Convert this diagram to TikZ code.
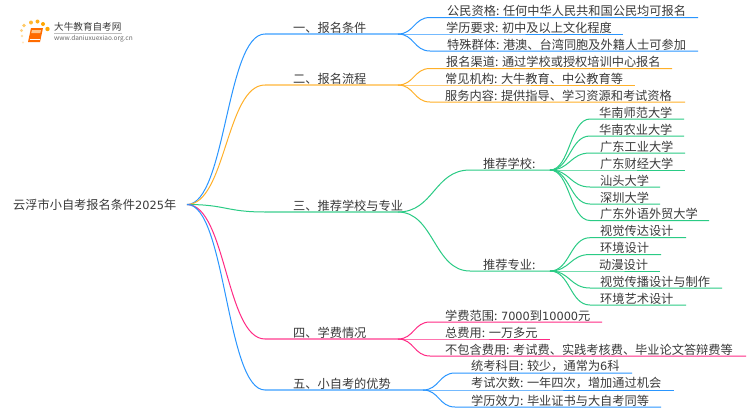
\documentclass[tikz,border=0pt]{standalone}
\usepackage{fontspec}
\setmainfont{Noto Sans CJK SC}
\newfontfamily\digitfont[Scale=0.93]{DejaVu Sans}
\definecolor{cblue}{HTML}{2A96FF}
\definecolor{corange}{HTML}{FFB029}
\definecolor{cgreen}{HTML}{2ACB85}
\definecolor{cpink}{HTML}{FF2A85}
\definecolor{ink}{HTML}{3A3A3A}
\tikzset{
  lbl/.style={anchor=west,inner sep=0pt,text=ink,font=\fontsize{12.2}{13}\selectfont},
  thin link/.style={line width=1pt},
  thick link/.style={line width=1.9pt,opacity=.6},
}
% \leaf{name}{hub}{colour}{curve end x}{y}{line end x}{text x}{text}
\newcommand{\leaf}[8]{%
  \coordinate (#1a) at (#4,#5);
  \coordinate (#1b) at (#6,#5);
  \node[lbl] (#1) at (#7,#5-6.6) {#8};
  \draw[thin link,#3] (#2) .. controls ($(#2)!.5!(#1a|-#2)$) and ($(#2|-#1a)!.5!(#1a)$) .. (#1a) -- (#1b);
}
\usetikzlibrary{calc}
\begin{document}
\begin{tikzpicture}[x=1pt,y=-1pt]
\useasboundingbox (0,0) rectangle (750,410);
\fill[white] (0,0) rectangle (750,410);
% logo
\foreach \px/\py/\r/\o in {22/36/1.4/.35,21.5/30.5/1.6/.5,24/25.5/1.8/.6,31/22.5/2/.8,37.5/21.5/2/.9,43/24/2/1,47.5/29/2.2/1,23/42.5/1.1/.25}
  \fill[orange!70!yellow,opacity=\o] (\px,\py) circle (\r);
\fill[orange!85!red] (31,28) -- (43,28) -- (40,42) -- (28,42) -- cycle;
\fill[orange!45] (32,30) -- (41,30) -- (40.3,33) -- (31.3,33) -- cycle;
\draw[white,line width=.5pt] (29.5,39.5) -- (39.5,39.5);
\node[inner sep=0pt,anchor=west,text=ink,font=\fontsize{9.6}{11}\selectfont] (logo) at (54,27) {大牛教育自考网};
\coordinate (logoa) at (54,33.3);
\coordinate (logob) at (122,33.3);
\draw[black!25,line width=.5pt] (logoa) -- (logob);
\node[inner sep=0pt,anchor=west,text=black!60,font=\fontsize{6.5}{7}\selectfont] (url) at (54,38.7) {www.daniuxuexiao.org.cn};
% root
\node[lbl] (root) at (13,205) {云浮市小自考报名条件{\digitfont 2025}年};
\coordinate (r) at (187,204.5);
% level one
\newcommand{\branch}[5]{%
  \coordinate (#1a) at (265,#3);
  \coordinate (#1) at (#4,#3);
  \draw[thin link,#2] (r) .. controls (226,204.5) and (226,#3) .. (#1a);
  \draw[thick link,#2] (#1a) -- (#1);
  \node[lbl] (#1t) at (293,#3-6.6) {#5};
}
\branch{b}{cblue}{34}{398}{一、报名条件}
\branch{c}{corange}{85}{398}{二、报名流程}
\branch{d}{cgreen}{212}{398}{三、推荐学校与专业}
\branch{e}{cpink}{339}{398}{四、学费情况}
\branch{f}{cblue}{390}{423}{五、小自考的优势}
% 一
\leaf{b1}{b}{cblue}{430}{17.5}{698}{447}{公民资格: 任何中华人民共和国公民均可报名}
\leaf{b2}{b}{cblue}{430}{34}{623}{446}{学历要求: 初中及以上文化程度}
\leaf{b3}{b}{cblue}{430}{51}{698}{447}{特殊群体: 港澳、台湾同胞及外籍人士可参加}
% 二
\leaf{c1}{c}{corange}{430}{68.5}{672}{446}{报名渠道: 通过学校或授权培训中心报名}
\leaf{c2}{c}{corange}{430}{85}{635}{445}{常见机构: 大牛教育、中公教育等}
\leaf{c3}{c}{corange}{430}{102}{685}{445}{服务内容: 提供指导、学习资源和考试资格}
% 三
\leaf{s}{d}{cgreen}{470}{170}{550}{483}{推荐学校:}
\leaf{m}{d}{cgreen}{470}{271}{550}{483}{推荐专业:}
\leaf{s1}{sb}{cgreen}{590}{119}{684}{599}{华南师范大学}
\leaf{s2}{sb}{cgreen}{590}{136}{684}{599}{华南农业大学}
\leaf{s3}{sb}{cgreen}{590}{153}{685}{600}{广东工业大学}
\leaf{s4}{sb}{cgreen}{590}{170}{685}{600}{广东财经大学}
\leaf{s5}{sb}{cgreen}{590}{187}{660}{600}{汕头大学}
\leaf{s6}{sb}{cgreen}{590}{204}{660}{600}{深圳大学}
\leaf{s7}{sb}{cgreen}{590}{220.5}{709}{600}{广东外语外贸大学}
\leaf{m1}{mb}{cgreen}{590}{237.7}{686}{600}{视觉传达设计}
\leaf{m2}{mb}{cgreen}{590}{254.5}{661}{600}{环境设计}
\leaf{m3}{mb}{cgreen}{590}{271}{660}{599}{动漫设计}
\leaf{m4}{mb}{cgreen}{590}{288}{722}{600}{视觉传播设计与制作}
\leaf{m5}{mb}{cgreen}{590}{305}{686}{600}{环境艺术设计}
% 四
\leaf{e1}{e}{cpink}{430}{322}{602}{445}{学费范围: {\digitfont 7000}到{\digitfont 10000}元}
\leaf{e2}{e}{cpink}{430}{339}{550}{445}{总费用: 一万多元}
\leaf{e3}{e}{cpink}{430}{356}{746}{445}{不包含费用: 考试费、实践考核费、毕业论文答辩费等}
% 五
\leaf{f1}{f}{cblue}{455}{373}{632}{471}{统考科目: 较少，通常为{\digitfont 6}科}
\leaf{f2}{f}{cblue}{455}{390}{674}{471}{考试次数: 一年四次，增加通过机会}
\leaf{f3}{f}{cblue}{455}{407}{661}{471}{学历效力: 毕业证书与大自考同等}
\end{tikzpicture}
\end{document}
